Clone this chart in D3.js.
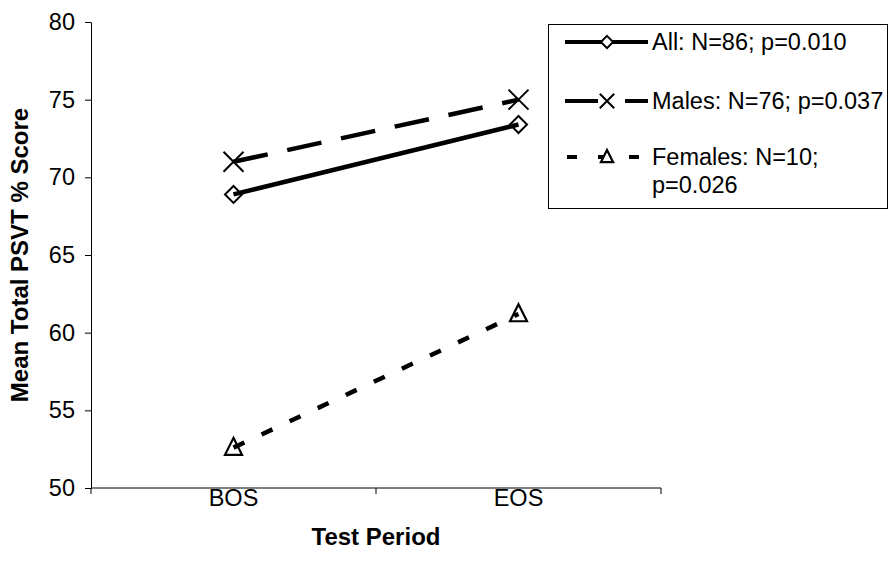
<!DOCTYPE html>
<html><head><meta charset="utf-8">
<script src="https://cdn.jsdelivr.net/npm/d3@7"></script>
<style>body{margin:0;background:#fff}svg{display:block}text{font-family:"Liberation Sans",Arial,sans-serif}</style>
</head><body>
<svg id="c" width="894" height="574"></svg>
<script>
const categories = ["BOS", "EOS"];
const allValues = [68.9, 73.4];
const maleValues = [71.0, 75.0];
const femaleValues = [52.6, 61.2];
const yTicks = [50, 55, 60, 65, 70, 75, 80];
const seriesNames = ["All: N=86; p=0.010", "Males: N=76; p=0.037", "Females: N=10;|p=0.026"];

const series = [
  {name: seriesNames[0], values: allValues, dash: null, legDash: null, legOff: 0, marker: "diamond"},
  {name: seriesNames[1], values: maleValues, dash: "35 20", legDash: "33 27", legOff: 0, marker: "x"},
  {name: seriesNames[2], values: femaleValues, dash: "12 19", legDash: "10 21", legOff: -2, marker: "triangle"}
];

const FS = 23.5;
const svg = d3.select("#c");
const x = d3.scaleBand().domain(categories).range([91, 661]).paddingInner(0).paddingOuter(0);
const y = d3.scaleLinear().domain([50, 80]).range([488, 22]);
const cx = d => x(d) + x.bandwidth() / 2;

// Y axis
const yAxis = d3.axisLeft(y).tickValues(yTicks).tickSize(6).tickPadding(10);
const gy = svg.append("g").attr("transform", "translate(91,0)").call(yAxis);
gy.select(".domain").attr("stroke", "#000").attr("stroke-width", 1);
gy.selectAll(".tick line").attr("stroke", "#000");
gy.selectAll(".tick text").attr("font-size", FS).attr("fill", "#000").style("font-family", "'Liberation Sans', Arial, sans-serif");

// X axis (ticks at band boundaries)
const gx = svg.append("g").attr("transform", "translate(0,488)");
gx.append("line").attr("x1", x.range()[0]).attr("x2", x.range()[1]).attr("stroke", "#000");
const bounds = categories.map(c => x(c)).concat([x(categories[categories.length - 1]) + x.bandwidth()]);
gx.selectAll("line.t").data(bounds).join("line").attr("class", "t")
  .attr("x1", d => d).attr("x2", d => d).attr("y1", 0).attr("y2", 6).attr("stroke", "#000");
gx.selectAll("text").data(categories).join("text")
  .attr("x", d => cx(d)).attr("y", 18).attr("text-anchor", "middle")
  .attr("font-size", FS).text(d => d);

// Axis titles
svg.append("text").attr("x", 376).attr("y", 545).attr("text-anchor", "middle")
  .attr("font-size", 24).attr("font-weight", "bold").text("Test Period");
svg.append("text").attr("transform", "translate(28,255) rotate(-90)").attr("text-anchor", "middle")
  .attr("font-size", 24).attr("font-weight", "bold").text("Mean Total PSVT % Score");

function drawMarker(g, type, px, py, fill, k) {
  if (type === "diamond") {
    const r = 8.5 * k;
    g.append("path").attr("d", `M${px},${py-r}L${px+r},${py}L${px},${py+r}L${px-r},${py}Z`)
      .attr("fill", fill).attr("stroke", "#000").attr("stroke-width", 2);
  } else if (type === "x") {
    const r = 10 * k;
    g.append("path").attr("d", `M${px-r},${py-r}L${px+r},${py+r}M${px-r},${py+r}L${px+r},${py-r}`)
      .attr("fill", "none").attr("stroke", "#000").attr("stroke-width", 2);
  } else {
    const r = 8.5 * k;
    g.append("path").attr("d", `M${px},${py-r*1.15}L${px+r},${py+r*0.85}L${px-r},${py+r*0.85}Z`)
      .attr("fill", fill).attr("stroke", "#000").attr("stroke-width", 2.2);
  }
}

const line = d3.line().x((d, i) => cx(categories[i])).y(d => y(d));
const plot = svg.append("g");
series.forEach(s => {
  plot.append("path").datum(s.values).attr("d", line).attr("fill", "none")
    .attr("stroke", "#000").attr("stroke-width", 4.5)
    .attr("stroke-dasharray", s.dash);
  s.values.forEach((v, i) => drawMarker(plot, s.marker, cx(categories[i]), y(v), "none", 1));
});

// Legend
const lg = svg.append("g");
lg.append("rect").attr("x", 548.5).attr("y", 24.5).attr("width", 339).attr("height", 184)
  .attr("fill", "#fff").attr("stroke", "#000").attr("stroke-width", 1);
const legY = [42, 101, 157];
series.forEach((s, i) => {
  const ly = legY[i];
  lg.append("line").attr("x1", 565).attr("x2", 648).attr("y1", ly).attr("y2", ly)
    .attr("stroke", "#000").attr("stroke-width", 4).attr("stroke-dasharray", s.legDash)
    .attr("stroke-dashoffset", s.legOff);
  drawMarker(lg, s.marker, 607, ly, "#fff", 0.72);
  const parts = s.name.split("|");
  parts.forEach((p, j) => {
    lg.append("text").attr("x", 652).attr("y", ly + 8.4 + j * 28).attr("font-size", FS).text(p);
  });
});
</script>
</body></html>
